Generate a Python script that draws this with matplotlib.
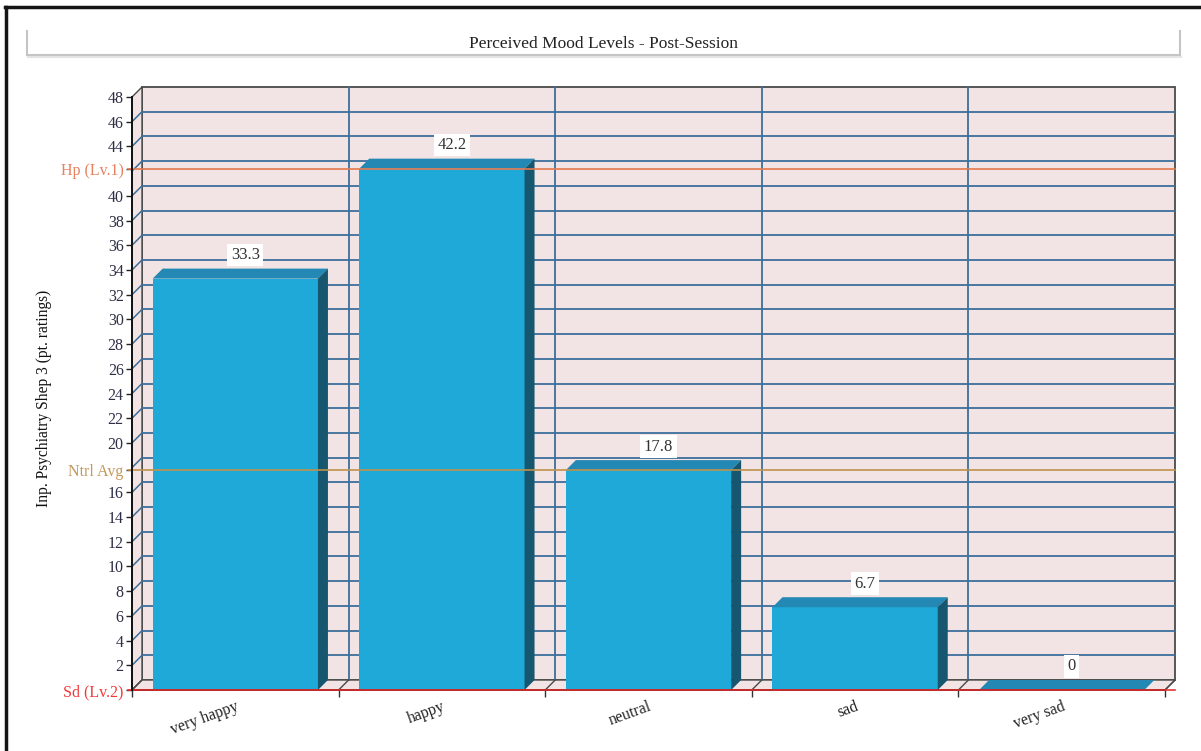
import numpy as np
import matplotlib.pyplot as plt
from matplotlib.patches import Polygon, Rectangle
from matplotlib.lines import Line2D

plt.rcParams['font.family'] = ['Liberation Serif', 'DejaVu Serif']

# data
categories = ['very happy', 'happy', 'neutral', 'sad', 'very sad']
values = [33.3, 42.2, 17.8, 6.7, 0]
grid_ticks = [2, 4, 6, 8, 10, 12, 14, 16, 18, 20, 22, 24, 26, 28, 30,
              32, 34, 36, 38, 40, 42, 44, 46]
num_ticks = [2, 4, 6, 8, 10, 12, 14, 16, 20, 22, 24, 26, 28, 30,
             32, 34, 36, 38, 40, 44, 46, 48]
ref_values = [42.2, 17.8, 0]
ref_labels = ['Hp (Lv.1)', 'Ntrl Avg', 'Sd (Lv.2)']
ref_text_colors = ['#E8805E', '#C49A5C', '#F03A3A']
ref_line_colors = ['#E2794E', '#C0924A', '#E83232']

FRONT = '#1EA9D9'
TOP = '#2388B3'
SIDE = '#17566F'
WALL = '#F2E4E4'
GRID = '#3C6E9C'
EDGE = '#4A4A4A'

W, H = 1201, 751
fig = plt.figure(figsize=(W / 100, H / 100), dpi=100)
ax = fig.add_axes([132 / W, 61 / H, 1033 / W, 593 / H])
ax.set_xlim(-0.5, len(categories) - 0.5)
ax.set_ylim(0, 48)
ax.patch.set_visible(False)
for s in ['top', 'right', 'bottom']:
    ax.spines[s].set_visible(False)
ax.spines['left'].set_color('#111111')
ax.spines['left'].set_linewidth(1.4)
ax.spines['left'].set_zorder(5)

# depth of the 3d look, 10 px right and up, in data units
p0 = ax.transData.transform((0, 0))
dx, dy = ax.transData.inverted().transform(p0 + np.array([10, 10])) - np.array([0, 0])
x0, x1 = -0.5, len(categories) - 0.5

# back wall, left wall, floor
ax.add_patch(Rectangle((x0 + dx, dy), x1 - x0, 48, fc=WALL, ec=EDGE, lw=1.3, zorder=0, clip_on=False))
ax.add_patch(Polygon([(x0, 0), (x0, 48), (x0 + dx, 48 + dy), (x0 + dx, dy)],
                     closed=True, fc=WALL, ec=EDGE, lw=1.0, zorder=0.5, clip_on=False))
ax.add_patch(Polygon([(x0, 0), (x1, 0), (x1 + dx, dy), (x0 + dx, dy)],
                     closed=True, fc=WALL, ec=EDGE, lw=1.0, zorder=0.5, clip_on=False))

for g in grid_ticks:
    ax.plot([x0 + dx, x1 + dx], [g + dy, g + dy], color=GRID, lw=1.3, zorder=1, clip_on=False)
    ax.plot([x0, x0 + dx], [g, g + dy], color=GRID, lw=1.1, zorder=1, clip_on=False)
bounds = np.arange(len(categories) + 1) - 0.5
for b in bounds[1:-1]:
    ax.plot([b + dx, b + dx], [dy, 48 + dy], color=GRID, lw=1.3, zorder=1, clip_on=False)
for b in bounds:
    ax.plot([b, b + dx], [0, dy], color=EDGE, lw=1.0, zorder=1, clip_on=False)

# bars
x = np.arange(len(categories))
bw = 0.8
ax.bar(x, values, bw, color=FRONT, zorder=3)
for xi, v in zip(x, values):
    l, r = xi - bw / 2, xi + bw / 2
    ax.add_patch(Polygon([(l, v), (r, v), (r + dx, v + dy), (l + dx, v + dy)],
                         closed=True, fc=TOP, ec='none', zorder=3, clip_on=False))
    if v > 0:
        ax.add_patch(Polygon([(r, 0), (r, v), (r + dx, v + dy), (r + dx, dy)],
                             closed=True, fc=SIDE, ec='none', zorder=3, clip_on=False))
    lab = f'{v:g}'
    ax.annotate(lab, (xi + dx, v + dy), xytext=(0, 4), textcoords='offset points',
                ha='center', va='bottom', fontsize=12, color='#333333', zorder=6,
                bbox=dict(boxstyle='square,pad=0.2', fc='white', ec='none'))

# reference lines
for rv, c in zip(ref_values, ref_line_colors):
    ax.plot([x0 - 0.02, x1 + dx], [rv, rv], color=c, lw=1.2, zorder=4, clip_on=False)
ax.plot([x0, x1], [0, 0], color='#111111', lw=1.4, zorder=3.9, clip_on=False)

# y ticks
yt = num_ticks + ref_values
ylab = [str(t) for t in num_ticks] + ref_labels
ax.set_yticks(yt)
ax.set_yticklabels(ylab)
ax.tick_params(axis='y', length=4, width=1.0, color='#222222', labelsize=11.5,
               labelcolor='#2E2E46', pad=2)
labels = ax.get_yticklabels()
for lbl, c in zip(labels[len(num_ticks):], ref_text_colors):
    lbl.set_color(c)

# x ticks
ax.set_xticks(x)
ax.set_xticklabels(categories, rotation=20, ha='right', rotation_mode='anchor',
                   fontsize=11.5, color='#222222')
ax.tick_params(axis='x', which='major', length=0, pad=6)
ax.set_xticks(bounds, minor=True)
ax.tick_params(axis='x', which='minor', length=5, width=1.0, color='#333333')

# y label
fig.text(44 / W, 1 - 398 / H, 'Inp. Psychiatry Shep 3 (pt. ratings)', rotation=90,
         ha='center', va='center', fontsize=11.2, color='#111111')

# title box
fig.text(603 / W, 1 - 44 / H, 'Perceived Mood Levels - Post-Session',
         ha='center', va='center', fontsize=12.5, color='#222222')
box_c = '#C4C4C4'
fig.add_artist(Line2D([27 / W, 27 / W], [1 - 31 / H, 1 - 55 / H], color=box_c, lw=1.5))
fig.add_artist(Line2D([1180 / W, 1180 / W], [1 - 31 / H, 1 - 55 / H], color=box_c, lw=1.5))
fig.add_artist(Line2D([27 / W, 1180 / W], [1 - 55 / H, 1 - 55 / H], color=box_c, lw=1.5))
fig.add_artist(Line2D([28 / W, 1181 / W], [1 - 57 / H, 1 - 57 / H], color='#E4E4E4', lw=1.5))

# outer frame
fig.add_artist(Line2D([5 / W, 1], [1 - 7 / H, 1 - 7 / H], color='#151515', lw=2.5))
fig.add_artist(Line2D([6 / W, 6 / W], [1 - 7 / H, 0], color='#151515', lw=2.5))

fig.savefig('out.png', dpi=100, facecolor='white')
